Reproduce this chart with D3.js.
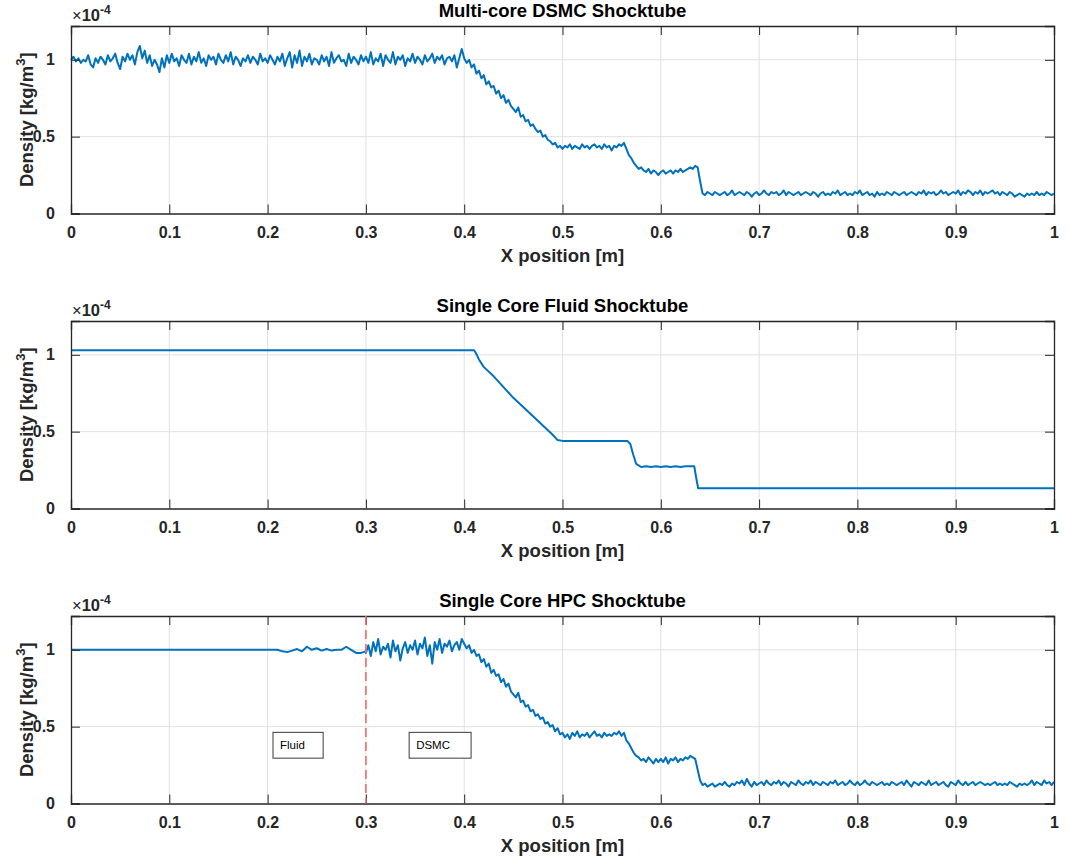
<!DOCTYPE html>
<html>
<head>
<meta charset="utf-8">
<script src="https://cdn.jsdelivr.net/npm/d3@7"></script>
<style>
  html, body { margin: 0; padding: 0; background: #fff; }
  svg { display: block; font-family: "Liberation Sans", Arial, Helvetica, sans-serif; }
</style>
</head>
<body>
<svg id="chart" width="1069" height="859"></svg>
<script>
// ---------- DATA (density values in units of 1e-4 kg/m^3) ----------
const xTicks = [0, 0.1, 0.2, 0.3, 0.4, 0.5, 0.6, 0.7, 0.8, 0.9, 1];
const xTickLabels = ["0", "0.1", "0.2", "0.3", "0.4", "0.5", "0.6", "0.7", "0.8", "0.9", "1"];
const yTicks = [0, 0.5, 1];
const yTickLabels = ["0", "0.5", "1"];
const yMax = 1.22;
const titles = ["Multi-core DSMC Shocktube", "Single Core Fluid Shocktube", "Single Core HPC Shocktube"];
const xLabel = "X position [m]";

// Panel 1: multi-core DSMC, x = 0 .. 1, step 0.0025 (401 samples)
const dsmcStep = 0.0025;
const dsmcValues = [
  1.00, 1.02, 0.99, 1.01, 0.98, 1.00, 0.99, 1.03, 0.97, 0.95, 1.01, 0.98, 1.02, 1.00, 0.97, 1.03, 0.99, 1.01, 1.04, 0.98,
  0.94, 1.02, 0.99, 1.04, 1.00, 1.03, 0.97, 1.05, 1.09, 1.01, 1.06, 0.98, 1.03, 0.96, 1.00, 0.97, 0.92, 1.01, 0.95, 1.03,
  0.98, 1.04, 0.99, 1.01, 0.96, 1.03, 1.00, 0.98, 1.04, 0.97, 1.02, 0.99, 1.05, 0.98, 1.01, 0.96, 1.03, 1.00, 1.02, 0.97,
  1.04, 1.00, 0.98, 1.03, 0.99, 1.05, 0.97, 1.02, 1.00, 0.96, 1.01, 0.99, 1.03, 0.98, 1.02, 1.00, 0.97, 1.04, 0.99, 1.01,
  0.98, 1.03, 1.00, 0.97, 1.02, 0.99, 1.04, 0.96, 1.01, 1.05, 0.95, 1.03, 0.98, 1.06, 0.96, 1.02, 0.99, 1.04, 0.97, 1.01,
  1.00, 0.97, 1.03, 0.99, 1.02, 0.96, 1.05, 0.98, 1.01, 1.03, 0.99, 1.00, 0.96, 1.04, 0.98, 1.02, 1.00, 0.97, 1.03, 0.99,
  1.02, 0.98, 1.05, 0.97, 1.01, 0.99, 1.04, 0.96, 1.03, 1.00, 0.98, 1.05, 0.97, 1.02, 1.00, 1.03, 0.96, 1.01, 0.99, 1.04,
  0.98, 1.02, 1.00, 0.97, 1.03, 0.99, 1.01, 1.04, 0.98, 1.02, 1.00, 1.03, 0.97, 1.01, 1.02, 0.99, 1.03, 0.95, 1.01, 1.07,
  1.01, 0.98, 1.00, 0.95, 0.97, 0.91, 0.93, 0.88, 0.90, 0.84, 0.86, 0.82, 0.83, 0.78, 0.80, 0.75, 0.77, 0.72, 0.74, 0.70,
  0.68, 0.66, 0.69, 0.63, 0.64, 0.60, 0.61, 0.57, 0.58, 0.55, 0.53, 0.54, 0.50, 0.51, 0.48, 0.47, 0.45, 0.46, 0.43, 0.44,
  0.42, 0.44, 0.43, 0.45, 0.42, 0.44, 0.43, 0.42, 0.45, 0.43, 0.44, 0.42, 0.44, 0.45, 0.43, 0.44, 0.42, 0.45, 0.43, 0.44,
  0.41, 0.44, 0.43, 0.45, 0.44, 0.46, 0.42, 0.38, 0.36, 0.33, 0.31, 0.29, 0.30, 0.28, 0.27, 0.29, 0.26, 0.28, 0.27, 0.25,
  0.27, 0.28, 0.26, 0.27, 0.28, 0.26, 0.28, 0.27, 0.29, 0.27, 0.28, 0.29, 0.30, 0.29, 0.31, 0.30, 0.21, 0.13, 0.12, 0.14,
  0.13, 0.12, 0.14, 0.13, 0.12, 0.13, 0.14, 0.12, 0.13, 0.15, 0.12, 0.13, 0.14, 0.13, 0.12, 0.14, 0.13, 0.11, 0.13, 0.14,
  0.12, 0.13, 0.15, 0.13, 0.12, 0.14, 0.13, 0.14, 0.12, 0.13, 0.15, 0.12, 0.14, 0.13, 0.12, 0.13, 0.14, 0.12, 0.13, 0.14,
  0.13, 0.12, 0.14, 0.13, 0.11, 0.13, 0.14, 0.12, 0.13, 0.12, 0.14, 0.13, 0.15, 0.12, 0.13, 0.14, 0.12, 0.13, 0.12, 0.14,
  0.13, 0.15, 0.12, 0.13, 0.14, 0.12, 0.13, 0.11, 0.14, 0.12, 0.13, 0.12, 0.14, 0.13, 0.12, 0.14, 0.13, 0.12, 0.13, 0.14,
  0.12, 0.13, 0.14, 0.13, 0.12, 0.14, 0.13, 0.15, 0.12, 0.14, 0.13, 0.14, 0.12, 0.13, 0.15, 0.13, 0.14, 0.12, 0.13, 0.14,
  0.13, 0.15, 0.12, 0.14, 0.13, 0.15, 0.14, 0.12, 0.14, 0.13, 0.15, 0.12, 0.14, 0.13, 0.14, 0.15, 0.13, 0.14, 0.12, 0.14,
  0.13, 0.12, 0.14, 0.13, 0.11, 0.12, 0.13, 0.12, 0.11, 0.13, 0.12, 0.13, 0.12, 0.14, 0.12, 0.13, 0.12, 0.14, 0.13, 0.12,
  0.13
];

// Panel 2: single-core fluid solution
const fluidX = [0, 0.410, 0.412, 0.415, 0.42, 0.43, 0.44, 0.45, 0.46, 0.47, 0.48, 0.49, 0.495, 0.50, 0.566, 0.569, 0.572, 0.575, 0.58,
  0.585, 0.59, 0.595, 0.60, 0.605, 0.61, 0.615, 0.62, 0.625, 0.63, 0.634, 0.636, 0.638, 1.0];
const fluidY = [1.03, 1.03, 1.01, 0.97, 0.92, 0.86, 0.79, 0.72, 0.66, 0.60, 0.54, 0.48, 0.445, 0.44, 0.44, 0.42, 0.35, 0.29, 0.27,
  0.275, 0.27, 0.275, 0.27, 0.275, 0.27, 0.275, 0.27, 0.275, 0.275, 0.275, 0.20, 0.132, 0.132];

// Panel 3: hybrid HPC — fluid part (0 .. 0.3) and DSMC part (0.3 .. 1, step 0.0025, 281 samples)
const hpcFluidX = [0, 0.21, 0.215, 0.22, 0.225, 0.23, 0.235, 0.24, 0.245, 0.25, 0.255, 0.26, 0.265, 0.27, 0.275, 0.28, 0.285, 0.29, 0.295, 0.30];
const hpcFluidY = [1.00, 1.00, 0.99, 0.985, 0.995, 1.005, 0.99, 1.02, 1.00, 1.01, 0.995, 1.005, 0.995, 1.00, 1.00, 1.02, 1.00, 0.98, 0.98, 0.99];
const hpcDsmcStart = 0.3;
const hpcDsmcStep = 0.0025;
const hpcDsmcValues = [
  0.98, 1.03, 0.96, 1.05, 0.99, 1.07, 0.97, 1.02, 1.00, 1.04, 0.95, 1.06, 0.99, 1.03, 0.93, 1.01, 1.05, 0.98, 1.03, 1.00,
  1.06, 0.97, 1.04, 1.01, 1.08, 0.96, 1.03, 0.91, 1.05, 1.00, 1.07, 0.98, 1.04, 1.02, 1.06, 0.99, 1.03, 1.05, 1.00, 1.07,
  1.04, 1.01, 1.03, 0.98, 1.00, 0.96, 0.97, 0.92, 0.94, 0.89, 0.91, 0.85, 0.87, 0.83, 0.84, 0.79, 0.81, 0.76, 0.78, 0.73,
  0.71, 0.69, 0.72, 0.66, 0.67, 0.63, 0.64, 0.60, 0.61, 0.57, 0.58, 0.55, 0.56, 0.52, 0.53, 0.50, 0.51, 0.47, 0.49, 0.45,
  0.46, 0.43, 0.45, 0.42, 0.46, 0.44, 0.47, 0.43, 0.45, 0.44, 0.46, 0.43, 0.45, 0.47, 0.44, 0.45, 0.43, 0.46, 0.44, 0.45,
  0.44, 0.46, 0.45, 0.47, 0.44, 0.46, 0.41, 0.39, 0.36, 0.33, 0.31, 0.30, 0.28, 0.29, 0.27, 0.30, 0.28, 0.26, 0.29, 0.27,
  0.29, 0.27, 0.30, 0.26, 0.29, 0.28, 0.30, 0.27, 0.29, 0.28, 0.30, 0.29, 0.31, 0.30, 0.29, 0.22, 0.15, 0.12, 0.13, 0.11,
  0.12, 0.13, 0.11, 0.12, 0.13, 0.12, 0.14, 0.12, 0.11, 0.13, 0.12, 0.14, 0.13, 0.15, 0.12, 0.16, 0.13, 0.11, 0.14, 0.12,
  0.13, 0.14, 0.12, 0.15, 0.13, 0.12, 0.14, 0.13, 0.15, 0.12, 0.14, 0.13, 0.11, 0.14, 0.13, 0.12, 0.15, 0.13, 0.12, 0.14,
  0.13, 0.15, 0.12, 0.14, 0.13, 0.12, 0.14, 0.13, 0.12, 0.14, 0.13, 0.15, 0.12, 0.13, 0.14, 0.12, 0.13, 0.15, 0.13, 0.12,
  0.14, 0.12, 0.13, 0.15, 0.13, 0.12, 0.14, 0.13, 0.12, 0.13, 0.14, 0.12, 0.13, 0.12, 0.14, 0.13, 0.12, 0.13, 0.14, 0.12,
  0.15, 0.13, 0.11, 0.14, 0.13, 0.12, 0.14, 0.13, 0.12, 0.15, 0.12, 0.13, 0.14, 0.12, 0.13, 0.14, 0.12, 0.11, 0.14, 0.13,
  0.12, 0.15, 0.13, 0.12, 0.14, 0.12, 0.13, 0.14, 0.12, 0.13, 0.14, 0.13, 0.12, 0.13, 0.12, 0.13, 0.14, 0.12, 0.13, 0.12,
  0.13, 0.12, 0.14, 0.13, 0.12, 0.11, 0.13, 0.12, 0.13, 0.12, 0.13, 0.15, 0.12, 0.14, 0.13, 0.12, 0.15, 0.13, 0.14, 0.12,
  0.14
];
const interfaceX = 0.3;
const annotations = [
  { text: "Fluid", x0: 0.2055, x1: 0.2565, y0: 0.295, y1: 0.463 },
  { text: "DSMC", x0: 0.344, x1: 0.407, y0: 0.295, y1: 0.463 }
];

// ---------- LAYOUT ----------
const left = 71, right = 1054;
const panelTops = [26, 321, 616];
const panelH = 187.5;
const lineColor = "#0072BD";
const axisColor = "#262626";
const gridColor = "#e1e1e1";

const svg = d3.select("#chart");
const x = d3.scaleLinear().domain([0, 1]).range([left, right]);

const seriesPerPanel = [
  [dsmcValues.map((v, i) => [i * dsmcStep, v])],
  [fluidX.map((v, i) => [v, fluidY[i]])],
  [hpcFluidX.map((v, i) => [v, hpcFluidY[i]]).concat(hpcDsmcValues.map((v, i) => [hpcDsmcStart + i * hpcDsmcStep, v]))]
];

panelTops.forEach((top, p) => {
  const bottom = top + panelH;
  const y = d3.scaleLinear().domain([0, yMax]).range([bottom, top]);
  const g = svg.append("g");

  // grid
  g.append("g").selectAll("line").data(xTicks.slice(1, -1)).join("line")
    .attr("x1", d => x(d)).attr("x2", d => x(d)).attr("y1", top).attr("y2", bottom)
    .attr("stroke", gridColor).attr("stroke-width", 1);
  g.append("g").selectAll("line").data(yTicks.slice(1)).join("line")
    .attr("x1", left).attr("x2", right).attr("y1", d => y(d)).attr("y2", d => y(d))
    .attr("stroke", gridColor).attr("stroke-width", 1);

  // data lines
  const line = d3.line().x(d => x(d[0])).y(d => y(d[1]));
  seriesPerPanel[p].forEach(s => {
    g.append("path").datum(s).attr("d", line)
      .attr("fill", "none").attr("stroke", lineColor).attr("stroke-width", 2)
      .attr("stroke-linejoin", "round");
  });

  // axes with inward ticks on all four sides
  const tl = 9;
  const axB = d3.axisBottom(x).tickValues(xTicks).tickSize(-tl).tickPadding(13).tickFormat((d, i) => xTickLabels[i]);
  const axT = d3.axisTop(x).tickValues(xTicks).tickSize(-tl).tickFormat("");
  const axL = d3.axisLeft(y).tickValues(yTicks).tickSize(-tl).tickPadding(16).tickFormat((d, i) => yTickLabels[i]);
  const axR = d3.axisRight(y).tickValues(yTicks).tickSize(-tl).tickFormat("");
  const gb = g.append("g").attr("transform", `translate(0,${bottom})`).call(axB);
  const gt = g.append("g").attr("transform", `translate(0,${top})`).call(axT);
  const gl = g.append("g").attr("transform", `translate(${left},0)`).call(axL);
  const gr = g.append("g").attr("transform", `translate(${right},0)`).call(axR);
  [gb, gt, gl, gr].forEach(a => {
    a.select(".domain").attr("stroke", axisColor).attr("stroke-width", 1.3);
    a.selectAll(".tick line").attr("stroke", axisColor).attr("stroke-width", 1);
    a.selectAll("text").attr("fill", axisColor).attr("font-size", 16).attr("font-weight", "bold")
      .attr("font-family", "\"Liberation Sans\", Arial, sans-serif");
  });

  // title
  g.append("text").attr("x", (left + right) / 2).attr("y", top - 9)
    .attr("text-anchor", "middle").attr("font-size", 18.5).attr("font-weight", "bold")
    .attr("fill", "#000").text(titles[p]);

  // x label
  g.append("text").attr("x", (left + right) / 2).attr("y", bottom + 48)
    .attr("text-anchor", "middle").attr("font-size", 18.5).attr("font-weight", "bold")
    .attr("fill", axisColor).text(xLabel);

  // y label
  const yl = g.append("text").attr("transform", `translate(33,${(top + bottom) / 2}) rotate(-90)`)
    .attr("text-anchor", "middle").attr("font-size", 18.5).attr("font-weight", "bold").attr("fill", axisColor);
  yl.append("tspan").text("Density [kg/m");
  yl.append("tspan").attr("font-size", 13).attr("dy", -8).text("3");
  yl.append("tspan").attr("dy", 8).text("]");

  // exponent
  const ex = g.append("text").attr("x", left + 1).attr("y", top - 5).attr("fill", axisColor).attr("font-size", 16.5);
  ex.append("tspan").text("\u00d7");
  ex.append("tspan").attr("font-weight", "bold").text("10");
  ex.append("tspan").attr("font-weight", "bold").attr("font-size", 12).attr("dy", -7).text("-4");

  if (p === 2) {
    g.append("line").attr("x1", x(interfaceX)).attr("x2", x(interfaceX)).attr("y1", top).attr("y2", bottom)
      .attr("stroke", "#f26b6b").attr("stroke-width", 1.6).attr("stroke-dasharray", "9,5");
    annotations.forEach(a => {
      g.append("rect").attr("x", x(a.x0)).attr("y", y(a.y1)).attr("width", x(a.x1) - x(a.x0)).attr("height", y(a.y0) - y(a.y1))
        .attr("fill", "#fff").attr("stroke", "#3a3a3a").attr("stroke-width", 1);
      g.append("text").attr("x", x(a.x0) + 7).attr("y", (y(a.y0) + y(a.y1)) / 2 + 4)
        .attr("font-size", 11.5).attr("fill", "#000").text(a.text);
    });
  }
});
</script>
</body>
</html>
